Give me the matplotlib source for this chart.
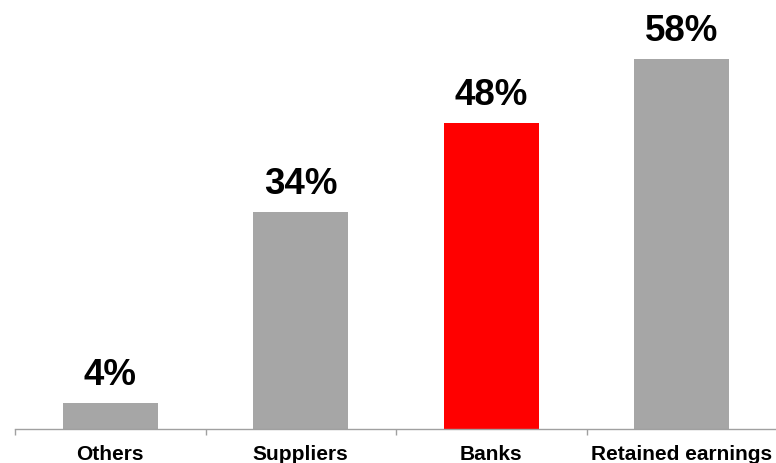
import matplotlib
matplotlib.use("Agg")
import matplotlib.pyplot as plt
import numpy as np

categories = ["Others", "Suppliers", "Banks", "Retained earnings"]
shares = [4, 34, 48, 58]
bar_colors = ["#a6a6a6", "#a6a6a6", "#ff0000", "#a6a6a6"]

plt.rcParams["font.family"] = ["Liberation Sans", "DejaVu Sans"]

fig = plt.figure(figsize=(7.76, 4.64), dpi=100)
ax = fig.add_axes([15 / 776, 34 / 464, 762 / 776, 430 / 464])

x = np.arange(len(categories))
bars = ax.bar(x, shares, width=0.5, color=bar_colors)

for rect, val in zip(bars, shares):
    ax.annotate(f"{val}%", (rect.get_x() + rect.get_width() / 2, rect.get_height()),
                xytext=(0, 8), textcoords="offset points",
                ha="center", va="bottom", fontsize=26.5, fontweight="bold")

ax.set_xlim(-0.5, len(categories) - 0.5)
ax.set_ylim(0, 67.4)

ax.set_xticks(x)
ax.set_xticklabels(categories, fontsize=15, fontweight="bold")
ax.tick_params(axis="x", which="major", length=0, pad=11)
ax.set_xticks(np.arange(len(categories) + 1) - 0.5, minor=True)
ax.tick_params(axis="x", which="minor", length=4, width=1, color="#a0a0a0")

ax.set_yticks([])
for side in ["left", "right", "top"]:
    ax.spines[side].set_visible(False)
ax.spines["bottom"].set_color("#a0a0a0")
ax.spines["bottom"].set_linewidth(1)

fig.savefig("out.png", dpi=100)
